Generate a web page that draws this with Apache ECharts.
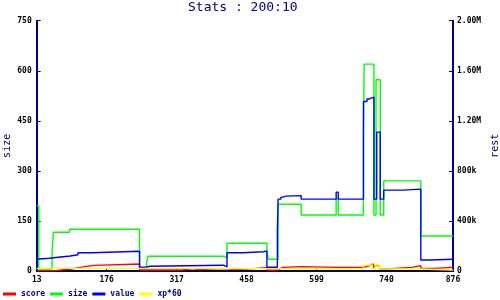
<!DOCTYPE html>
<html><head><meta charset="utf-8">
<script src="https://cdn.jsdelivr.net/npm/echarts@6/dist/echarts.min.js"></script>
<style>html,body{margin:0;padding:0;background:#fff}#c{width:500px;height:300px}</style>
</head><body><div id="c"></div>
<script>
// x positions are sample indices along the x axis (0..595); labels shown at every 100 samples
const xTickLabels = ['13','176','317','458','599','740','876'];
const rightTickLabels = {0:'0',400:'400k',800:'800k',1200:'1.20M',1600:'1.60M',2000:'2.00M'};

const scoreX = [0,21,29,50,62,71,82,147,207,224,231,267,283,310,329,345,348,352,378,429,431,467,476,481,483,490,500,536,549,567,595];
const scoreY = [1,2,6,11,14,17,21,3,7,4,7,4,7,10,3,7,11,13,11,14,11,16,21,8,16,6,11,16,8,11,11];

const sizeX = [0,3,22,24,47,147,157,159,267,272,329,331,345,378,428,431,467,468,482,485,491,496,549,595];
const sizeY = [195,6,60,116,125,9,25,44,40,83,60,35,200,168,216,168,393,620,168,573,168,270,105,105];

// value, in thousands (right axis "rest")
const valueX = [0,1,4,18,31,48,59,79,147,156,162,267,272,295,324,329,344,345,349,352,356,378,428,431,467,472,475,478,482,486,491,496,524,549,563,595];
const valueY = [114,96,102,110,120,130,146,158,30,38,46,32,146,154,160,30,310,574,590,598,602,574,630,574,1354,1374,1382,1390,574,1110,574,646,654,88,94,94];

const xpX = [0,147,467,480,484,490,548,595];
const xpY = [8,6,18,6,18,6,3,3];

const NAVY = '#000080';
const MONO = "'DejaVu Sans Mono', 'Liberation Mono', monospace";
const zip = (xs, ys) => xs.map((x, i) => [x, ys[i]]);

const chart = echarts.init(document.getElementById('c'), null, {renderer: 'canvas'});
const tickLabel = {fontFamily: MONO, fontSize: 8, fontWeight: 'bold', color: '#000'};
const mkLine = (name, color, xs, ys, yAxisIndex) => ({
  name, type: 'line', step: 'end', yAxisIndex, data: zip(xs, ys),
  showSymbol: false, symbol: 'none', lineStyle: {color, width: 1.4}, itemStyle: {color}
});

chart.setOption({
  animation: false,
  backgroundColor: '#fff',
  title: {
    text: 'Stats : 200:10', left: 188, top: 1, padding: 0,
    textStyle: {fontFamily: MONO, fontSize: 13, fontWeight: 'normal', color: NAVY}
  },
  legend: {
    left: 3, top: 290, padding: 0, itemWidth: 13, itemHeight: 3, itemGap: 5,
    icon: 'rect',
    textStyle: {fontFamily: MONO, fontSize: 8, fontWeight: 'bold', color: NAVY, width: 26, overflow: 'none'}
  },
  grid: {left: 36.7, right: 47, top: 20.7, bottom: 29, containLabel: false, outerBoundsMode: 'none'},
  xAxis: {
    type: 'value', min: 0, max: 595, interval: 100,
    axisLine: {show: true, onZero: false, lineStyle: {color: NAVY, width: 2}},
    axisTick: {show: true, inside: true, length: 3, lineStyle: {color: NAVY}},
    splitLine: {show: false},
    axisLabel: Object.assign({}, tickLabel, {
      margin: 5, showMinLabel: true, showMaxLabel: true,
      formatter: v => (v >= 595 ? xTickLabels[6] : xTickLabels[Math.round(v / 100)])
    })
  },
  yAxis: [{
    type: 'value', min: 0, max: 750, interval: 150,
    name: 'size', nameLocation: 'middle', nameGap: 24, nameMoveOverlap: false,
    nameTextStyle: {fontFamily: MONO, fontSize: 10, color: NAVY},
    axisLine: {show: true, onZero: false, lineStyle: {color: NAVY, width: 2}},
    axisTick: {show: true, inside: true, length: 4, lineStyle: {color: NAVY}},
    splitLine: {show: false},
    axisLabel: Object.assign({}, tickLabel, {margin: 5})
  }, {
    type: 'value', position: 'right', min: 0, max: 2000, interval: 400,
    name: 'rest', nameLocation: 'middle', nameGap: 37, nameMoveOverlap: false,
    nameTextStyle: {fontFamily: MONO, fontSize: 10, color: NAVY},
    axisLine: {show: true, onZero: false, lineStyle: {color: NAVY, width: 2}},
    axisTick: {show: true, inside: true, length: 4, lineStyle: {color: NAVY}},
    splitLine: {show: false},
    axisLabel: Object.assign({}, tickLabel, {margin: 4, formatter: v => rightTickLabels[v]})
  }],
  series: [
    mkLine('score', '#ff0000', scoreX, scoreY, 0),
    mkLine('size', '#00ff00', sizeX, sizeY, 0),
    mkLine('value', '#0000ff', valueX, valueY, 1),
    mkLine('xp*60', '#ffff00', xpX, xpY, 0)
  ]
});
</script></body></html>
